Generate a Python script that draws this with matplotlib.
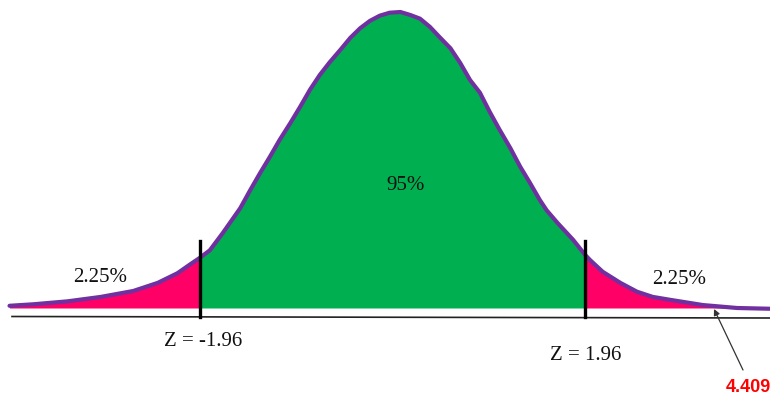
import matplotlib
matplotlib.use("Agg")
import matplotlib.pyplot as plt
import numpy as np

# ---- data (z value, relative density) ----
curve_z = [-3.90, -3.66, -3.31, -2.97, -2.64, -2.39, -2.19, -2.06, -1.96, -1.86,
           -1.73, -1.55, -1.45, -1.35, -1.25, -1.15, -1.04, -0.94, -0.84, -0.74,
           -0.64, -0.53, -0.43, -0.33, -0.23, -0.13, -0.03, 0.08, 0.18, 0.28,
           0.38, 0.48, 0.59, 0.69, 0.79, 0.89, 0.99, 1.09, 1.20, 1.30,
           1.40, 1.50, 1.57, 1.68, 1.84, 1.96, 2.01, 2.14, 2.32, 2.49,
           2.65, 2.83, 3.16, 3.51, 3.84]
curve_d = [0.003, 0.005, 0.009, 0.015, 0.023, 0.034, 0.047, 0.059, 0.068, 0.078,
           0.101, 0.135, 0.159, 0.182, 0.204, 0.227, 0.250, 0.272, 0.295, 0.315,
           0.332, 0.349, 0.365, 0.378, 0.388, 0.395, 0.399, 0.400, 0.396, 0.391,
           0.380, 0.366, 0.351, 0.331, 0.308, 0.291, 0.265, 0.241, 0.216, 0.191,
           0.169, 0.146, 0.132, 0.115, 0.092, 0.072, 0.065, 0.049, 0.034, 0.022,
           0.015, 0.011, 0.004, 0.000, -0.001]
z_crit = [-1.96, 1.96]
tail_label = "2.25%"
center_label = "95%"
z_labels = ["Z = -1.96", "Z = 1.96"]
marker_label = "4.409"

# ---- layout helpers (pixel position -> data coordinates) ----
def zx(px):
    return (px - 392.5) / 98.2

def dy(py):
    return (308 - py) / 740.0

GREEN = "#00B050"
PINK = "#FF0066"
PURPLE = "#7030A0"

fig = plt.figure(figsize=(7.70, 3.97), dpi=100)
ax = fig.add_axes([0, 0, 1, 1])
ax.set_xlim(zx(0), zx(770))
ax.set_ylim(dy(397), dy(0))
ax.axis("off")

z = np.array(curve_z)
d = np.array(curve_d)
lo, hi = z_crit

ax.fill_between(z, 0, d, where=(z >= lo) & (z <= hi), color=GREEN, lw=0, zorder=1)
ax.fill_between(z, 0, d, where=(z <= lo), color=PINK, lw=0, zorder=1)
ax.fill_between(z, 0, d, where=(z >= hi), color=PINK, lw=0, zorder=1)
ax.plot(z, d, color=PURPLE, lw=3.0, solid_joinstyle="round",
        solid_capstyle="round", zorder=2)

# baseline
ax.plot([zx(12), zx(770)], [dy(316.5), dy(318)], color="#222222", lw=1.2, zorder=2)

# critical value lines
for zc in z_crit:
    ax.plot([zc, zc], [dy(241), dy(317)], color="black", lw=2.4, zorder=3)

serif = dict(family=["Liberation Serif", "DejaVu Serif"], fontsize=15, color="#111111")
ax.text(zx(100), dy(278), tail_label, ha="center", va="center", **serif)
ax.text(zx(679), dy(279), tail_label, ha="center", va="center", **serif)
ax.text(zx(406), dy(185), center_label, ha="center", va="center", **serif)
ax.text(zx(203), dy(341), z_labels[0], ha="center", va="center", **serif)
ax.text(zx(586), dy(355), z_labels[1], ha="center", va="center", **serif)

ax.text(zx(726), dy(388), marker_label, ha="left", va="center",
        family=["Liberation Sans", "DejaVu Sans"], fontsize=13,
        fontweight="bold", color="#FF0000")
ax.annotate("", xy=(zx(714), dy(309)), xytext=(zx(743), dy(370)),
            arrowprops=dict(arrowstyle="-|>", color="#333333", lw=0.9,
                            mutation_scale=9, shrinkA=0, shrinkB=0),
            zorder=4)

fig.savefig("out.png", dpi=100)
